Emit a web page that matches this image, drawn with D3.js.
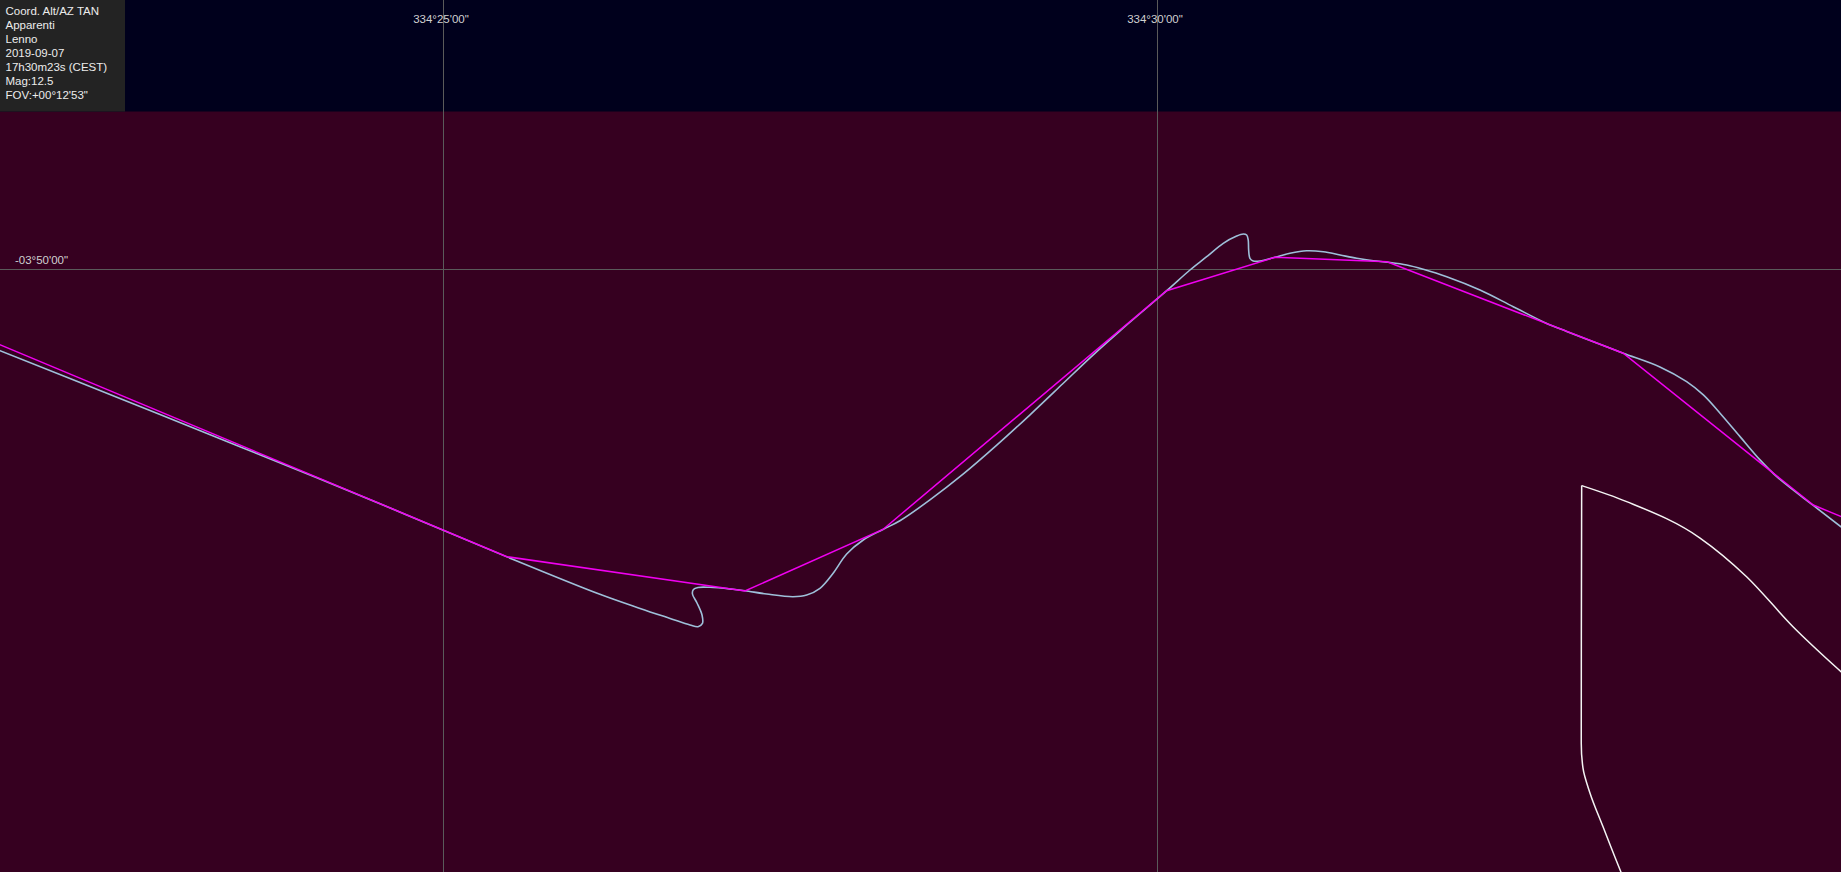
<!DOCTYPE html>
<html><head><meta charset="utf-8">
<script src="https://cdn.jsdelivr.net/npm/d3@7"></script>
<style>html,body{margin:0;padding:0;background:#360020;overflow:hidden}</style>
</head><body>
<svg id="c" width="1841" height="872"></svg>
<script>
// ---- data (azimuth in arcmin past 334°, altitude in arcmin) ----
const infoLines = ["Coord. Alt/AZ TAN", "Apparenti", "Lenno", "2019-09-07", "17h30m23s (CEST)", "Mag:12.5", "FOV:+00°12'53\""];
const azTicks = [25, 30];
const azTickLabels = ["334°25'00\"", "334°30'00\""];
const altTicks = [-230];
const altTickLabels = ["-03°50'00\""];
const viewAz = [21.898, 34.790];
const viewAlt = [-228.114, -234.221];
const skyTopAlt = -228.895;

// horizon profile vertices (magenta polyline)
const horizonAz  = [20.077, 25.448, 27.115, 28.081, 30.068, 30.826, 31.611, 33.265, 34.596, 35.623];
const horizonAlt = [-229.767, -232.013, -232.253, -231.822, -230.150, -229.916, -229.947, -230.588, -231.651, -232.078];

// smoothed horizon (light blue curve)
const smoothAz  = [21.758, 21.898, 22.738, 23.578, 24.559, 25.448, 26.099, 26.380, 26.590, 26.730,
                   26.786, 26.817, 26.814, 26.779, 26.747, 26.754, 26.786, 26.870, 27.031, 27.115,
                   27.267, 27.451, 27.547, 27.640, 27.731, 27.827, 27.943, 28.081, 28.200, 28.410,
                   28.642, 28.880, 29.111, 29.342, 29.531, 29.741, 30.068, 30.231, 30.348, 30.464,
                   30.558, 30.604, 30.628, 30.639, 30.642, 30.651, 30.674, 30.721, 30.826, 30.931,
                   31.048, 31.165, 31.282, 31.399, 31.515, 31.620, 31.749, 31.865, 32.029, 32.262,
                   32.495, 32.729, 32.869, 33.079, 33.265, 33.522, 33.709, 33.826, 33.943, 34.083,
                   34.223, 34.340, 34.596, 34.790, 34.930];
const smoothAlt = [-230.515, -230.570, -230.905, -231.242, -231.642, -232.014, -232.276, -232.375, -232.445, -232.491,
                   -232.503, -232.480, -232.421, -232.337, -232.274, -232.242, -232.228, -232.227, -232.241, -232.251,
                   -232.274, -232.293, -232.281, -232.234, -232.130, -231.994, -231.896, -231.822, -231.761, -231.615,
                   -231.435, -231.230, -231.019, -230.800, -230.620, -230.431, -230.150, -230.005, -229.912, -229.818,
                   -229.767, -229.753, -229.760, -229.795, -229.865, -229.923, -229.942, -229.942, -229.916, -229.888,
                   -229.870, -229.877, -229.900, -229.923, -229.940, -229.951, -229.970, -230.000, -230.052, -230.145,
                   -230.262, -230.379, -230.435, -230.516, -230.588, -230.684, -230.787, -230.880, -231.008, -231.172,
                   -231.335, -231.452, -231.654, -231.803, -231.910];

// white outline
const limbLeftAz  = [32.974, 32.971, 32.983, 33.032, 33.123, 33.249, 33.333];
const limbLeftAlt = [-231.515, -233.317, -233.492, -233.667, -233.903, -234.221, -234.417];
const limbRightAz  = [32.974, 33.289, 33.803, 34.129, 34.454, 34.790, 35.063];
const limbRightAlt = [-231.515, -231.627, -231.882, -232.153, -232.503, -232.818, -233.058];

const W = 1841, H = 872;
const svg = d3.select("#c");
const x = d3.scaleLinear().domain(viewAz).range([0, W]);
const y = d3.scaleLinear().domain(viewAlt).range([0, H]);

svg.append("rect").attr("x", 0).attr("y", 0).attr("width", W).attr("height", H).attr("fill", "#360020");
svg.append("rect").attr("x", 0).attr("y", 0).attr("width", W).attr("height", y(skyTopAlt)).attr("fill", "#00001c");

// grid
const g = svg.append("g");
g.selectAll("line.v").data(azTicks).join("line")
  .attr("x1", d => Math.round(x(d)) + 0.5).attr("x2", d => Math.round(x(d)) + 0.5)
  .attr("y1", 0).attr("y2", H).attr("stroke", "#5a5a5a").attr("stroke-width", 1);
g.selectAll("line.h").data(altTicks).join("line")
  .attr("y1", d => Math.round(y(d)) + 0.5).attr("y2", d => Math.round(y(d)) + 0.5)
  .attr("x1", 0).attr("x2", W).attr("stroke", "#5a5a5a").attr("stroke-width", 1);

const font = "'Liberation Sans', Arial, sans-serif";
g.selectAll("text.az").data(azTicks).join("text")
  .attr("x", d => x(d) - 2).attr("y", 22.5).attr("text-anchor", "middle")
  .attr("font-family", font).attr("font-size", 11.5).attr("fill", "#d0d0d0")
  .text((d, i) => azTickLabels[i]);
g.selectAll("text.alt").data(altTicks).join("text")
  .attr("x", 15).attr("y", d => y(d) - 5).attr("text-anchor", "start")
  .attr("font-family", font).attr("font-size", 11.5).attr("fill", "#d0d0d0")
  .text((d, i) => altTickLabels[i]);

// horizon
const sp = smoothAz.map((a, i) => [x(a), y(smoothAlt[i])]);
svg.append("path").attr("d", d3.line().curve(d3.curveCatmullRom.alpha(0.5))(sp))
  .attr("fill", "none").attr("stroke", "#9ec0da").attr("stroke-width", 1.6);
const pts = horizonAz.map((a, i) => [x(a), y(horizonAlt[i])]);
svg.append("path").attr("d", d3.line()(pts))
  .attr("fill", "none").attr("stroke", "#f000f0").attr("stroke-width", 1.5);

// white outline
const lp = limbLeftAz.map((a, i) => [x(a), y(limbLeftAlt[i])]);
const rp = limbRightAz.map((a, i) => [x(a), y(limbRightAlt[i])]);
svg.append("path").attr("d", d3.line().curve(d3.curveMonotoneY)(lp))
  .attr("fill", "none").attr("stroke", "#f4f4f4").attr("stroke-width", 1.5);
svg.append("path").attr("d", d3.line().curve(d3.curveMonotoneX)(rp))
  .attr("fill", "none").attr("stroke", "#f4f4f4").attr("stroke-width", 1.5);

// info box
svg.append("rect").attr("x", 0).attr("y", 0).attr("width", 125).attr("height", y(skyTopAlt)).attr("fill", "#232323");
svg.append("g").selectAll("text").data(infoLines).join("text")
  .attr("x", 5.5).attr("y", (d, i) => 14.7 + i * 13.97)
  .attr("font-family", font).attr("font-size", 11.5).attr("fill", "#ececec")
  .text(d => d);
</script>
</body></html>
